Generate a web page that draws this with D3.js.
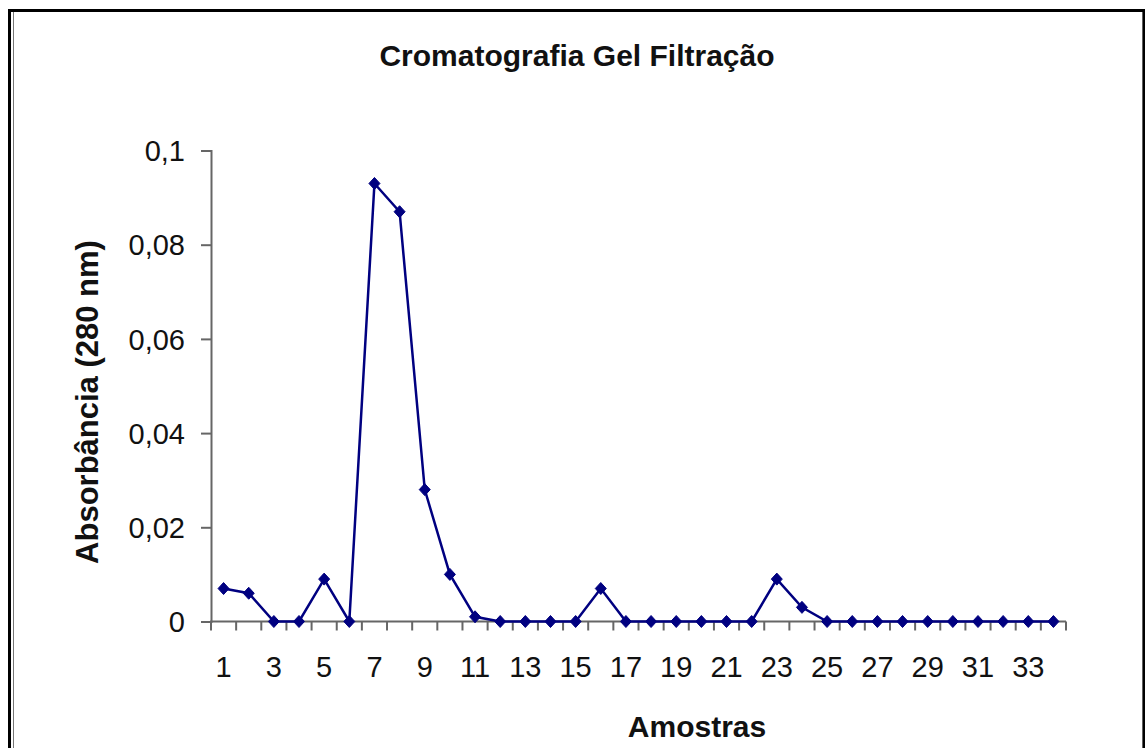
<!DOCTYPE html>
<html>
<head>
<meta charset="utf-8">
<script src="https://cdn.jsdelivr.net/npm/d3@7"></script>
<style>
  body { margin: 0; background: #fff; }
  text { font-family: Arial, "Liberation Sans", sans-serif; }
</style>
</head>
<body>
<svg id="chart"></svg>
<script>
// Data
const samples = d3.range(1, 35); // 1..34
const absorbance = [0.007, 0.006, 0, 0, 0.009, 0, 0.093, 0.087, 0.028, 0.010,
                    0.001, 0, 0, 0, 0, 0.007, 0, 0, 0, 0,
                    0, 0, 0.009, 0.003, 0, 0, 0, 0, 0, 0,
                    0, 0, 0, 0];
const yTicks = [0, 0.02, 0.04, 0.06, 0.08, 0.1];
const xTickLabels = samples.filter(d => d % 2 === 1);

const width = 1145;
const height = 748;
const margin = { top: 150, right: 79, bottom: 127, left: 211 };

const svg = d3.select('#chart')
    .attr('width', width)
    .attr('height', height);

// Frame
svg.append('rect')
    .attr('x', 9.5).attr('y', 10.5)
    .attr('width', 1144 - 9.5).attr('height', 760)
    .attr('fill', 'none').attr('stroke', '#000').attr('stroke-width', 3);
svg.append('line')
    .attr('x1', 13.5).attr('x2', 13.5).attr('y1', 12).attr('y2', 748)
    .attr('stroke', '#777').attr('stroke-width', 1);
svg.append('line')
    .attr('x1', 1143.5).attr('x2', 1143.5).attr('y1', 12).attr('y2', 748)
    .attr('stroke', '#000').attr('stroke-width', 1.5);

// Scales
const xScale = d3.scaleBand()
    .domain(samples)
    .range([margin.left, width - margin.right]);

const yScale = d3.scaleLinear()
    .domain([0, 0.1])
    .range([621.5, margin.top + 0.5]);

const fmt = d => d === 0 ? '0' : d3.format('.2~f')(d).replace('.', ',');

// Y axis
const yAxis = svg.append('g')
    .attr('transform', `translate(${margin.left}, 0)`)
    .call(d3.axisLeft(yScale).tickValues(yTicks).tickSize(10).tickPadding(16).tickFormat(fmt));
yAxis.select('.domain').attr('stroke', '#666').attr('stroke-width', 2);
yAxis.selectAll('.tick line').attr('stroke', '#666').attr('stroke-width', 2);
yAxis.selectAll('.tick text')
    .attr('font-size', '29px').attr('fill', '#111').attr('dy', '0.35em');

// X axis: ticks between categories
const xAxisG = svg.append('g').attr('transform', `translate(0, ${yScale(0)})`);
xAxisG.append('line')
    .attr('x1', margin.left - 1).attr('x2', width - margin.right)
    .attr('stroke', '#666').attr('stroke-width', 2);
const edges = samples.map(d => xScale(d)).concat([xScale.range()[1]]);
xAxisG.selectAll('.xtick')
    .data(edges)
    .join('line')
    .attr('class', 'xtick')
    .attr('x1', d => d).attr('x2', d => d)
    .attr('y1', 0).attr('y2', 9)
    .attr('stroke', '#666').attr('stroke-width', 2);
xAxisG.selectAll('.xlabel')
    .data(xTickLabels)
    .join('text')
    .attr('class', 'xlabel')
    .attr('x', d => xScale(d) + xScale.bandwidth() / 2)
    .attr('y', 55)
    .attr('text-anchor', 'middle')
    .attr('font-size', '29px')
    .attr('fill', '#111')
    .text(d => d);

// Line + markers
const line = d3.line()
    .x((d, i) => xScale(samples[i]) + xScale.bandwidth() / 2)
    .y(d => yScale(d));

svg.append('path')
    .datum(absorbance)
    .attr('fill', 'none')
    .attr('stroke', '#000080')
    .attr('stroke-width', 2.5)
    .attr('d', line);

// diamond marker, a bit wider than d3's default diamond
const diamond = {
    draw(context, size) {
        const w = 5.5, h = 6;
        context.moveTo(0, -h);
        context.lineTo(w, 0);
        context.lineTo(0, h);
        context.lineTo(-w, 0);
        context.closePath();
    }
};

svg.selectAll('.marker')
    .data(absorbance)
    .join('path')
    .attr('class', 'marker')
    .attr('d', d3.symbol(diamond))
    .attr('transform', (d, i) => `translate(${xScale(samples[i]) + xScale.bandwidth() / 2}, ${yScale(d)})`)
    .attr('fill', '#000080')
    .attr('stroke', '#000080')
    .attr('stroke-width', 1);

// Title and axis labels
svg.append('text')
    .attr('x', 577).attr('y', 66)
    .attr('text-anchor', 'middle')
    .attr('font-size', '30px').attr('font-weight', 'bold')
    .attr('fill', '#111')
    .text('Cromatografia Gel Filtração');

svg.append('text')
    .attr('x', 697).attr('y', 737)
    .attr('text-anchor', 'middle')
    .attr('font-size', '30px').attr('font-weight', 'bold')
    .attr('fill', '#111')
    .text('Amostras');

svg.append('text')
    .attr('transform', 'rotate(-90)')
    .attr('x', -402).attr('y', 98)
    .attr('text-anchor', 'middle')
    .attr('font-size', '31px').attr('font-weight', 'bold')
    .attr('fill', '#111')
    .text('Absorbância (280 nm)');
</script>
</body>
</html>
